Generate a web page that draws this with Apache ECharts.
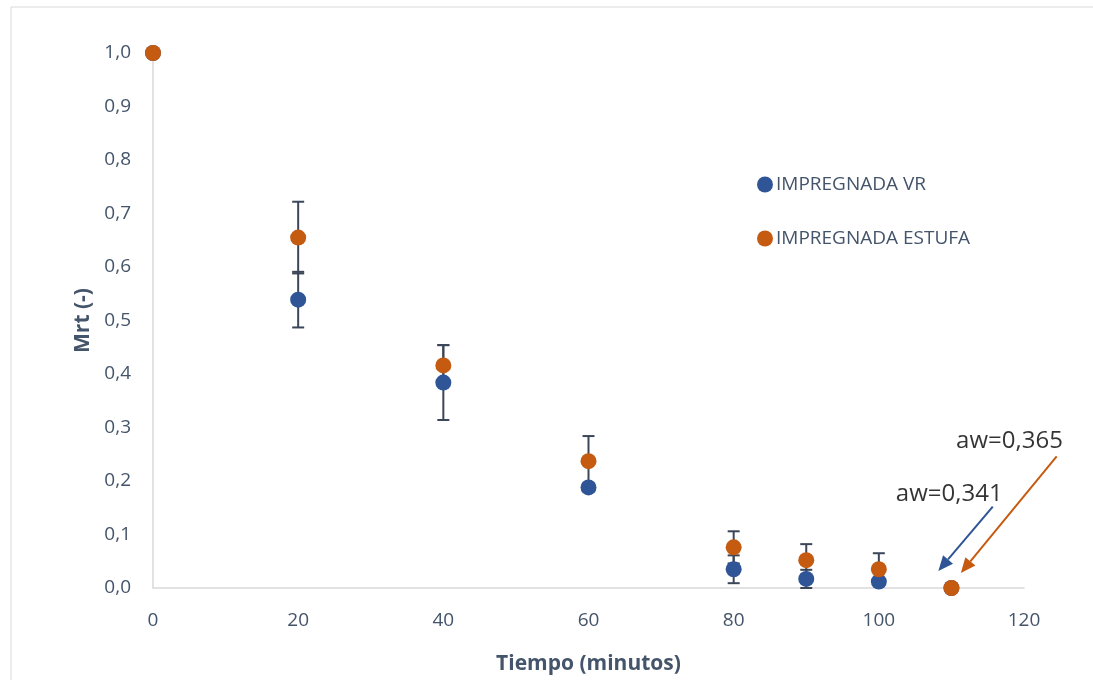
<!DOCTYPE html>
<html>
<head>
<meta charset="utf-8">
<script src="https://cdn.jsdelivr.net/npm/echarts@6/dist/echarts.min.js"></script>
<style>html,body{margin:0;padding:0;background:#fff;overflow:hidden;}#c{width:1093px;height:680px;}</style>
</head>
<body>
<div id="c"></div>
<script>
const tiempo = [0, 20, 40, 60, 80, 90, 100, 110];
const vrValues = [1.0, 0.539, 0.384, 0.188, 0.035, 0.017, 0.012, 0.0];
const vrErrors = [0, 0.052, 0.07, 0.008, 0.026, 0.017, 0.006, 0];
const estufaValues = [1.0, 0.655, 0.416, 0.237, 0.076, 0.052, 0.035, 0.0];
const estufaErrors = [0, 0.067, 0.038, 0.047, 0.03, 0.03, 0.03, 0];
const seriesNames = ['IMPREGNADA VR', 'IMPREGNADA ESTUFA'];
const xTicks = [0, 20, 40, 60, 80, 100, 120];
const annotLabels = ['aw=0,341', 'aw=0,365'];
// annotation anchors in data units [x, y]
const annotTextPos = [[109.7, 0.175], [118.0, 0.275]];
const annotArrowFrom = [[115.7, 0.152], [124.5, 0.246]];
const annotArrowTo = [[108.2, 0.032], [111.3, 0.028]];

const blue = '#2F5597', orange = '#C55A11', barColor = '#3B4658', txt = '#44546A';
const annotColors = [blue, orange];

function pairs(xs, ys){ return xs.map((x,i)=>[x, ys[i]]); }
function errData(xs, ys, es){ return xs.map((x,i)=>[x, ys[i]-es[i], ys[i]+es[i]]); }

function errRender(params, api){
  const x = api.value(0);
  if (api.value(2) - api.value(1) <= 0) return null;
  const lo = api.coord([x, api.value(1)]);
  const hi = api.coord([x, api.value(2)]);
  const w = 6;
  const st = {stroke: barColor, lineWidth: 2};
  return {type:'group', children:[
    {type:'line', shape:{x1:lo[0],y1:lo[1],x2:hi[0],y2:hi[1]}, style:st},
    {type:'line', shape:{x1:lo[0]-w,y1:lo[1],x2:lo[0]+w,y2:lo[1]}, style:st},
    {type:'line', shape:{x1:hi[0]-w,y1:hi[1],x2:hi[0]+w,y2:hi[1]}, style:st}
  ]};
}

const chart = echarts.init(document.getElementById('c'), null, {width:1093, height:680});
const font = '"Open Sans", sans-serif';
chart.setOption({
  animation: false,
  textStyle: {fontFamily: font},
  grid: {left: 153, width: 871, top: 53, height: 536},
  legend: {
    orient: 'vertical', left: 752, top: 170, itemGap: 35, itemWidth: 16, itemHeight: 16,
    icon: 'circle', data: seriesNames,
    textStyle: {color: txt, fontSize: 19, fontFamily: font, padding:[0,0,0,-2]}
  },
  xAxis: {
    type: 'value', min: 0, max: 120, interval: 20,
    name: 'Tiempo (minutos)', nameLocation: 'middle', nameGap: 66,
    nameTextStyle: {color: txt, fontSize: 21, fontWeight: 'bold', fontFamily: font},
    axisLine: {show: true, lineStyle: {color: '#D9D9D9', width: 1.5}},
    axisTick: {show: false}, splitLine: {show: false},
    axisLabel: {color: txt, fontSize: 19, margin: 23, fontFamily: font,
      formatter: v => xTicks.includes(v) ? String(v) : ''}
  },
  yAxis: {
    type: 'value', min: 0, max: 1, interval: 0.1,
    name: 'Mrt (-)', nameLocation: 'middle', nameGap: 44,
    nameTextStyle: {color: txt, fontSize: 21, fontWeight: 'bold', fontFamily: font},
    axisLine: {show: true, lineStyle: {color: '#D9D9D9', width: 1.5}},
    axisTick: {show: false}, splitLine: {show: false},
    axisLabel: {color: txt, fontSize: 19, margin: 22, fontFamily: font,
      formatter: v => v.toFixed(1).replace('.', ',')}
  },
  series: [
    {type:'custom', name:'errVR', renderItem: errRender, data: errData(tiempo, vrValues, vrErrors), z: 1, encode:{x:0, y:[1,2]}, silent: true},
    {type:'custom', name:'errEstufa', renderItem: errRender, data: errData(tiempo, estufaValues, estufaErrors), z: 1, encode:{x:0, y:[1,2]}, silent: true},
    {type:'scatter', name: seriesNames[0], data: pairs(tiempo, vrValues), symbolSize: 16, itemStyle:{color: blue, opacity: 1}, z: 3},
    {type:'scatter', name: seriesNames[1], data: pairs(tiempo, estufaValues), symbolSize: 16, itemStyle:{color: orange, opacity: 1}, z: 4},
    {type:'scatter', name:'annot', data: annotTextPos, symbolSize: 0, clip: false, z: 5, silent: true,
      label: {show: true, position: 'inside', color: '#000', fontSize: 24, fontFamily: font,
        formatter: p => annotLabels[p.dataIndex]}
    }
  ]
});

// border + arrows (positions converted from data units through the chart's own axes)
const gfx = [{type:'rect', shape:{x:11, y:7, width:1100, height:700}, style:{fill:'none', stroke:'#D9D9D9', lineWidth:1}, silent:true}];
annotArrowFrom.forEach((from, i) => {
  const p0 = chart.convertToPixel({gridIndex:0}, from);
  const p1 = chart.convertToPixel({gridIndex:0}, annotArrowTo[i]);
  const dx = p1[0]-p0[0], dy = p1[1]-p0[1], L = Math.hypot(dx, dy);
  const ux = dx/L, uy = dy/L, hl = 15, hw = 6.5;
  const bx = p1[0]-ux*hl, by = p1[1]-uy*hl;
  gfx.push({type:'line', shape:{x1:p0[0], y1:p0[1], x2:bx, y2:by}, style:{stroke: annotColors[i], lineWidth: 2}, silent:true, z: 10});
  gfx.push({type:'polygon', shape:{points:[[p1[0],p1[1]],[bx - uy*hw, by + ux*hw],[bx + uy*hw, by - ux*hw]]}, style:{fill: annotColors[i]}, silent:true, z: 10});
});
chart.setOption({graphic: gfx});
</script>
</body>
</html>
